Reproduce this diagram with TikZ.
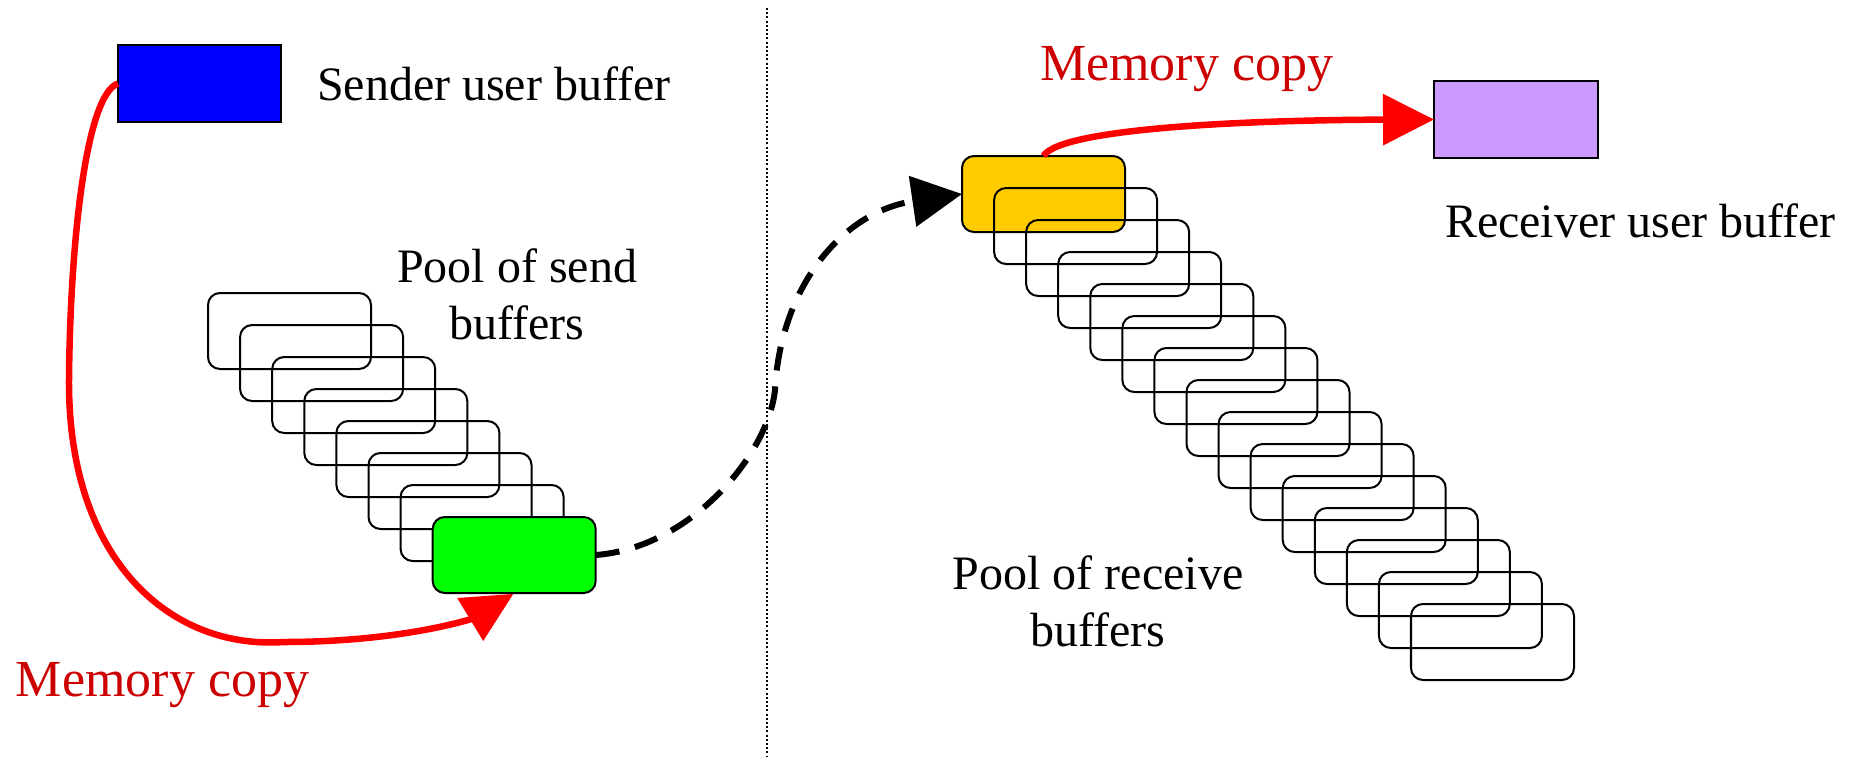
\documentclass[tikz,border=0pt]{standalone}
\usepackage{fontspec}
\setmainfont{Liberation Serif}
\usetikzlibrary{arrows.meta,calc}
\definecolor{userblue}{RGB}{0,0,255}
\definecolor{userpurple}{RGB}{204,153,255}
\definecolor{sendgreen}{RGB}{0,255,0}
\definecolor{recvorange}{RGB}{255,204,0}
\definecolor{copyred}{RGB}{204,0,0}
\begin{document}
\begin{tikzpicture}[x=1pt,y=-1pt,
  bufrect/.style={draw=black, line width=2pt, rounded corners=12pt,
    minimum width=163pt, minimum height=76pt, inner sep=0pt, outer sep=0pt,
    anchor=north west},
  userbox/.style={draw=black, line width=2.5pt, minimum width=163pt,
    minimum height=77pt, inner sep=0pt, outer sep=0pt, anchor=north west},
  txt/.style={font=\fontsize{48}{57}\selectfont, inner sep=0pt, outer sep=0pt},
  copytxt/.style={font=\fontsize{52}{60}\selectfont, text=copyred,
    inner sep=0pt, outer sep=0pt},
  copyline/.style={draw=red, line width=6.5pt},
  netline/.style={draw=black, line width=6pt, dash pattern=on 24pt off 16pt},
  divider/.style={draw=black, line width=2pt, dash pattern=on 2pt off 2.2pt}
]
\useasboundingbox (0,0) rectangle (1857,756);

% sender / receiver separation
\coordinate (divtop) at (767,8);
\coordinate (divbot) at (767,756);
\draw[divider] (divtop) -- (divbot);

% user buffers
\node[userbox, fill=userblue] (sendbuf) at (118,45) {};
\node[txt, anchor=base west] (sendlbl) at (317,100) {Sender user buffer};
\node[userbox, fill=userpurple, minimum width=164pt] (recvbuf) at (1434,81) {};
\node[txt, anchor=base west] (recvlbl) at (1445,237) {Receiver user buffer};

% pool of send buffers (the green one is in use)
\foreach \k in {0,...,6}
  \node[bufrect] (s\k) at ({208+32.1*\k},{293+32*\k}) {};
\node[bufrect, fill=sendgreen] (s7) at (432.7,517) {};
\node[txt, align=center, anchor=base] (sendpool) at (517,339) {Pool of send\\buffers};

% pool of receive buffers (the orange one is in use)
\node[bufrect, fill=recvorange] (r0) at (962,156) {};
\foreach \k in {1,...,14}
  \node[bufrect] (r\k) at ({962+32.07*\k},{156+32*\k}) {};
\node[txt, align=center, anchor=base] (recvpool) at (1098,646) {Pool of receive\\buffers};

% memory copy on the sender side
\coordinate (sendtip) at ($(s7.south)+(-36,24)$);
\draw[copyline] (sendbuf.west) .. controls (85,95) and (70,250) .. (69,380)
  .. controls (68,560) and (170,650) .. (284,642)
  .. controls (360,642) and (430,632) .. (sendtip);
\fill[red] ($(s7.south)+(-57,5)$) -- ($(s7.south)+(-1,1)$)
  -- ($(s7.south)+(-31,48)$) -- cycle;
\node[copytxt, anchor=base west] (copy1) at (16,696) {Memory copy};

% network transfer
\draw[netline, -{Triangle[length=50pt,width=50pt]}] (s7.east)
  .. controls (690,548) and (768,455) .. (775,390)
  .. controls (780,290) and (840,212) .. (r0.west);

% memory copy on the receiver side
\draw[copyline, -{Triangle[length=51pt,width=50pt]}] (r0.north)
  .. controls (1060,128) and (1250,120) .. (recvbuf.west);
\node[copytxt, anchor=base west] (copy2) at (1040,80) {Memory copy};
\end{tikzpicture}
\end{document}
